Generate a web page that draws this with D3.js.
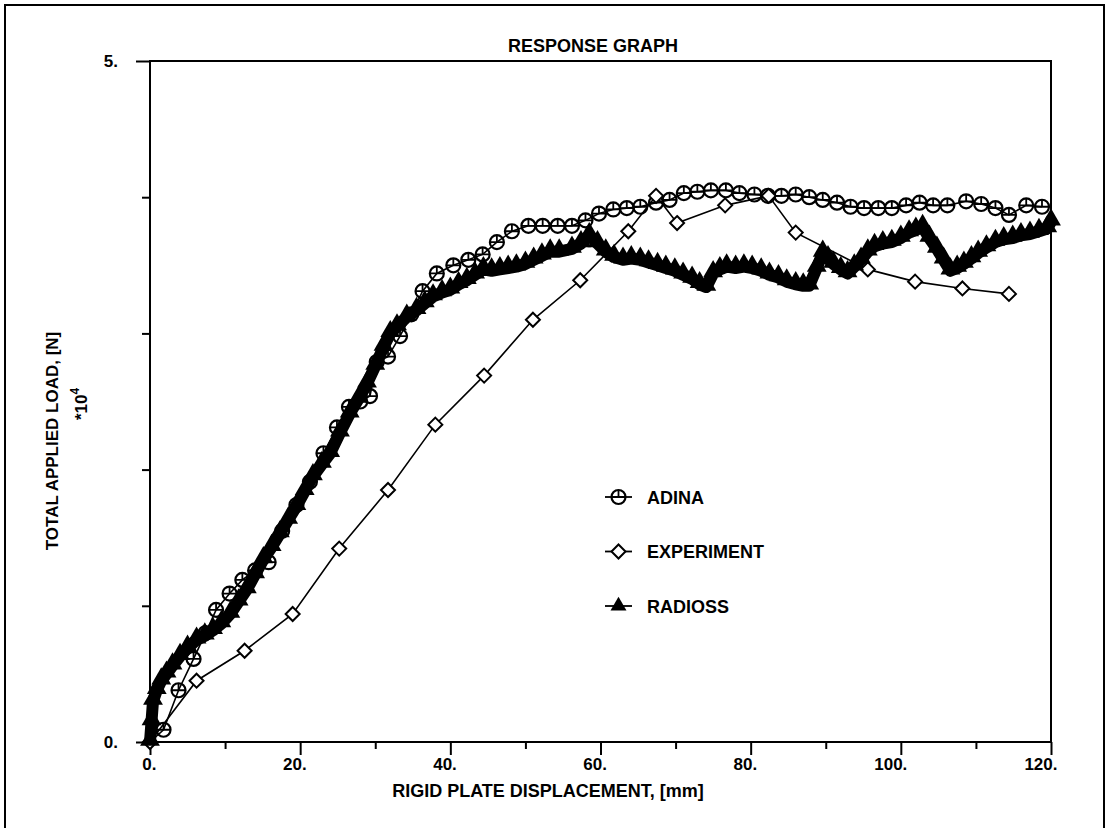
<!DOCTYPE html>
<html>
<head>
<meta charset="utf-8">
<script src="https://cdn.jsdelivr.net/npm/d3@7"></script>
<style>
  body { margin: 0; background: #fff; }
  text { font-family: 'Liberation Sans', Arial, sans-serif; font-weight: bold; fill: #000; }
</style>
</head>
<body>
<svg id="chart" width="1108" height="828"></svg>
<script>
const xTicks = [0, 10, 20, 30, 40, 50, 60, 70, 80, 90, 100, 110, 120]
const xLabels = [0, 20, 40, 60, 80, 100, 120]
const yTicks = [0, 1, 2, 3, 4, 5]
const yLabels = [0, 5]

// [displacement mm, load *1e4 N]
const adina = [
  [0, 0], [1.8, 0.09], [3.8, 0.38], [5.8, 0.61], [7.4, 0.80], [8.8, 0.97], [10.6, 1.09],
  [12.3, 1.19], [14.0, 1.26], [15.8, 1.32], [17.6, 1.55], [19.5, 1.74], [21.3, 1.91],
  [23.1, 2.12], [24.9, 2.31], [26.5, 2.46], [28.0, 2.50], [29.3, 2.54], [30.2, 2.79],
  [31.7, 2.83], [33.3, 2.98], [34.8, 3.14], [36.3, 3.31], [38.2, 3.44], [40.4, 3.50],
  [42.4, 3.54], [44.3, 3.58], [46.2, 3.67], [48.2, 3.75], [50.4, 3.79], [52.3, 3.79],
  [54.3, 3.79], [56.2, 3.79], [58.0, 3.83], [59.8, 3.88], [61.7, 3.91], [63.5, 3.92],
  [65.3, 3.93], [67.4, 3.96], [69.2, 3.98], [71.1, 4.03], [72.9, 4.04], [74.7, 4.05],
  [76.7, 4.05], [78.5, 4.03], [80.5, 4.02], [82.3, 4.01], [84.1, 4.01], [86.0, 4.02],
  [87.8, 4.00], [89.6, 3.98], [91.5, 3.96], [93.3, 3.93], [95.1, 3.92], [97.0, 3.92],
  [98.8, 3.92], [100.7, 3.94], [102.5, 3.96], [104.3, 3.94], [106.2, 3.94], [108.7, 3.97],
  [110.7, 3.95], [112.6, 3.92], [114.4, 3.87], [116.7, 3.94], [118.8, 3.93]
]

const experiment = [
  [0, 0], [6.2, 0.45], [12.6, 0.67], [19.0, 0.94], [25.2, 1.42], [31.7, 1.85], [38.0, 2.33],
  [44.5, 2.69], [51.0, 3.10], [57.3, 3.39], [63.7, 3.75], [67.4, 4.01], [70.2, 3.81],
  [76.6, 3.94], [82.4, 4.01], [86.0, 3.74], [95.6, 3.47], [101.9, 3.38], [108.2, 3.33],
  [114.4, 3.29]
]

const radioss = [
  [0, 0], [0.2, 0.15], [0.4, 0.3], [0.9, 0.38], [1.5, 0.45], [2.2, 0.5], [3.0, 0.56],
  [4.0, 0.63], [5.0, 0.69], [6.2, 0.75], [7.3, 0.78], [8.4, 0.82], [9.5, 0.87], [10.7, 0.94],
  [11.8, 1.03], [12.9, 1.12], [14.0, 1.23], [15.1, 1.34], [16.2, 1.43], [17.3, 1.53],
  [18.4, 1.63], [19.5, 1.73], [20.6, 1.84], [21.7, 1.95], [22.9, 2.04], [24.0, 2.12],
  [25.3, 2.27], [26.6, 2.41], [27.8, 2.52], [28.9, 2.63], [30.0, 2.76], [31.1, 2.90],
  [32.0, 3.00], [32.9, 3.05], [34.2, 3.12], [35.5, 3.17], [36.6, 3.22], [37.7, 3.27],
  [38.9, 3.30], [40.0, 3.32], [41.1, 3.36], [42.2, 3.39], [43.3, 3.43], [44.4, 3.47],
  [45.5, 3.46], [46.6, 3.47], [47.7, 3.48], [48.8, 3.49], [50.0, 3.51], [51.1, 3.54],
  [52.2, 3.57], [53.3, 3.60], [54.5, 3.60], [56.2, 3.62], [57.4, 3.66], [58.5, 3.72],
  [59.6, 3.66], [60.7, 3.60], [61.8, 3.56], [63.0, 3.54], [64.1, 3.55], [65.3, 3.54],
  [66.4, 3.52], [67.6, 3.50], [68.7, 3.48], [69.9, 3.46], [71.0, 3.43], [72.2, 3.40],
  [73.2, 3.36], [74.1, 3.34], [75.0, 3.44], [75.9, 3.47], [76.8, 3.49], [78.0, 3.48],
  [79.1, 3.49], [80.2, 3.48], [81.4, 3.46], [82.5, 3.43], [83.7, 3.41], [84.8, 3.38],
  [86.0, 3.36], [87.0, 3.35], [87.8, 3.35], [88.8, 3.48], [89.6, 3.59], [90.3, 3.55],
  [91.0, 3.51], [92.0, 3.47], [92.9, 3.44], [93.8, 3.49], [94.7, 3.54], [95.6, 3.60],
  [96.5, 3.64], [97.6, 3.66], [98.8, 3.67], [100.0, 3.70], [101.1, 3.74], [102.0, 3.76],
  [102.9, 3.78], [103.8, 3.70], [104.8, 3.62], [105.7, 3.54], [106.6, 3.46], [107.5, 3.48],
  [108.4, 3.51], [109.4, 3.55], [110.3, 3.59], [111.4, 3.63], [112.6, 3.67], [113.7, 3.69],
  [114.9, 3.70], [116.0, 3.72], [117.2, 3.73], [118.4, 3.75], [119.5, 3.77], [120, 3.82]
]

const legendNames = ['ADINA', 'EXPERIMENT', 'RADIOSS']

const svg = d3.select('#chart')
const x = d3.scaleLinear().domain([0, 120]).range([150, 1051])
const y = d3.scaleLinear().domain([0, 5]).range([742, 61])

// page frame, bottom edge runs off the sheet
svg.append('rect')
  .attr('x', 5).attr('y', 5).attr('width', 1099).attr('height', 840)
  .attr('fill', 'none').attr('stroke', '#000').attr('stroke-width', 2)

svg.append('rect')
  .attr('x', x(0)).attr('y', y(5))
  .attr('width', x(120) - x(0)).attr('height', y(0) - y(5))
  .attr('fill', 'none').attr('stroke', '#000').attr('stroke-width', 2)

const xMinor = svg.append('g')
  .attr('transform', `translate(0,${y(0)})`)
  .call(d3.axisBottom(x).tickValues(xTicks.filter(d => !xLabels.includes(d))).tickSize(7).tickFormat(''))
const xMajor = svg.append('g')
  .attr('transform', `translate(0,${y(0)})`)
  .call(d3.axisBottom(x).tickValues(xLabels).tickSize(13).tickFormat(d => d + '.'))
xMajor.selectAll('text')
  .attr('text-anchor', 'end').attr('x', 6).attr('y', 16)
  .style('font-size', '17px')

const yMinor = svg.append('g')
  .attr('transform', `translate(${x(0)},0)`)
  .call(d3.axisLeft(y).tickValues(yTicks.filter(d => !yLabels.includes(d))).tickSize(8).tickFormat(''))
const yMajor = svg.append('g')
  .attr('transform', `translate(${x(0)},0)`)
  .call(d3.axisLeft(y).tickValues(yLabels).tickSize(14).tickFormat(d => d + '.'))
yMajor.selectAll('text')
  .attr('x', -32).attr('dy', '0.35em')
  .style('font-size', '17px')

;[xMinor, xMajor, yMinor, yMajor].forEach(g => {
  g.select('.domain').remove()
  g.selectAll('line').attr('stroke', '#000').attr('stroke-width', 2)
})

svg.append('text')
  .attr('x', 593).attr('y', 52)
  .attr('text-anchor', 'middle')
  .style('font-size', '18px')
  .text('RESPONSE GRAPH')

svg.append('text')
  .attr('x', 548).attr('y', 797)
  .attr('text-anchor', 'middle')
  .style('font-size', '18px')
  .text('RIGID PLATE DISPLACEMENT, [mm]')

svg.append('text')
  .attr('transform', 'translate(58,441) rotate(-90)')
  .attr('text-anchor', 'middle')
  .style('font-size', '17px')
  .text('TOTAL APPLIED LOAD, [N]')

const mult = svg.append('text')
  .attr('transform', 'translate(87,404) rotate(-90)')
  .attr('text-anchor', 'middle')
  .style('font-size', '17px')
mult.append('tspan').text('*10')
mult.append('tspan').attr('dy', -8).style('font-size', '12px').text('4')

const line = d3.line().x(d => x(d[0])).y(d => y(d[1]))

function circleMark(g) {
  g.append('circle').attr('r', 7).attr('fill', 'none').attr('stroke', '#000').attr('stroke-width', 2.2)
  g.append('path').attr('d', 'M-7,0H7M0,-7V0').attr('stroke', '#000').attr('stroke-width', 1.8)
}
function diamondMark(g) {
  g.append('path').attr('d', 'M0,-7L7,0L0,7L-7,0Z')
    .attr('fill', '#fff').attr('stroke', '#000').attr('stroke-width', 2)
}
function triangleMark(g) {
  g.append('path').attr('d', d3.symbol(d3.symbolTriangle, 110)).attr('fill', '#000')
}

// adina
svg.append('path').datum(adina)
  .attr('d', line).attr('fill', 'none').attr('stroke', '#000').attr('stroke-width', 1.6)
svg.append('g').selectAll('g')
  .data(adina.slice(1))
  .enter()
  .append('g')
  .attr('transform', d => `translate(${x(d[0])},${y(d[1])})`)
  .each(function() { circleMark(d3.select(this)) })

// experiment
svg.append('path').datum(experiment)
  .attr('d', line).attr('fill', 'none').attr('stroke', '#000').attr('stroke-width', 1.6)
svg.append('g').selectAll('g')
  .data(experiment)
  .enter()
  .append('g')
  .attr('transform', d => `translate(${x(d[0])},${y(d[1])})`)
  .each(function() { diamondMark(d3.select(this)) })

// radioss: dense markers merge into a thick band
svg.append('path').datum(radioss)
  .attr('d', line).attr('fill', 'none').attr('stroke', '#000').attr('stroke-width', 12)
  .attr('stroke-linejoin', 'round')
svg.append('g').selectAll('path')
  .data(radioss)
  .enter()
  .append('path')
  .attr('transform', d => `translate(${x(d[0])},${y(d[1]) - 2})`)
  .attr('d', d3.symbol(d3.symbolTriangle, 170))
  .attr('fill', '#000')

const marks = [circleMark, diamondMark, triangleMark]
const legend = svg.append('g').selectAll('g')
  .data(legendNames)
  .enter()
  .append('g')
  .attr('transform', (d, i) => `translate(605,${497 + i * 54.5})`)

legend.append('line')
  .attr('x1', 0).attr('x2', 27)
  .attr('stroke', '#000').attr('stroke-width', 1.8)
legend.append('g')
  .attr('transform', 'translate(13.5,0)')
  .each(function(d, i) { marks[i](d3.select(this)) })
legend.append('text')
  .attr('x', 42).attr('y', 6.5)
  .style('font-size', '18px')
  .text(d => d)
</script>
</body>
</html>
